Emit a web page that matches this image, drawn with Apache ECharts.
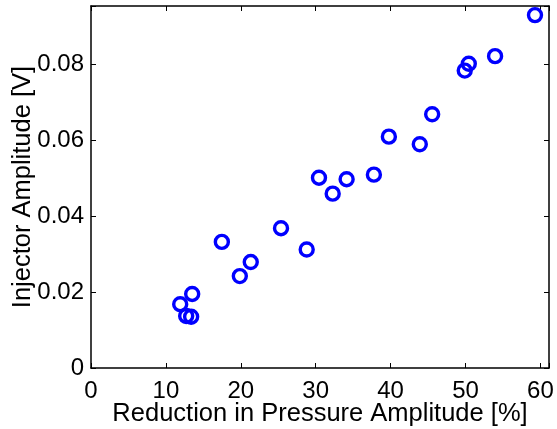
<!DOCTYPE html>
<html>
<head>
<meta charset="utf-8">
<script src="https://cdn.jsdelivr.net/npm/echarts@6/dist/echarts.min.js"></script>
<style>html,body{margin:0;padding:0;background:#fff;}#c{width:557px;height:429px;}</style>
</head>
<body>
<div id="c"></div>
<script>
var reductionPct = [11.91, 12.71, 13.37, 13.51, 17.47, 19.87, 21.33, 25.37, 28.80, 30.44, 32.27, 34.13, 37.77, 39.77, 43.90, 45.55, 49.90, 50.44, 53.95, 59.28];
var injectorAmp  = [0.0168, 0.0137, 0.0135, 0.0195, 0.0332, 0.0242, 0.0279, 0.0368, 0.0312, 0.0501, 0.0459, 0.0497, 0.0509, 0.0609, 0.0589, 0.0668, 0.0783, 0.0801, 0.0821, 0.0929];
var xTicks = [0, 10, 20, 30, 40, 50, 60];
var yTicks = [0, 0.02, 0.04, 0.06, 0.08];
var xTitle = 'Reduction in Pressure Amplitude [%]';
var yTitle = 'Injector Amplitude [V]';

var points = reductionPct.map(function (x, i) { return [x, injectorAmp[i]]; });
var font = 'Liberation Sans, Arial, Helvetica, sans-serif';

function isTick(list, v) {
  for (var i = 0; i < list.length; i++) if (Math.abs(list[i] - v) < 1e-9) return true;
  return false;
}
function xFmt(v) { return isTick(xTicks, v) ? String(v) : ''; }
function yFmt(v) {
  if (!isTick(yTicks, v)) return '';
  return v === 0 ? '0' : v.toFixed(2);
}
var lineStyle = { color: '#000', width: 1.5 };
var tickStyle = { show: true, inside: true, length: 5, lineStyle: { color: '#000', width: 1 } };

var chart = echarts.init(document.getElementById('c'), null, { renderer: 'canvas' });
chart.setOption({
  animation: false,
  backgroundColor: '#fff',
  grid: { left: 91, right: 8, top: 6, bottom: 61, containLabel: false, outerBoundsMode: 'none' },
  xAxis: [{
    type: 'value', min: 0, max: 61.15, interval: 10, position: 'bottom',
    name: xTitle, nameLocation: 'middle', nameGap: 33, nameMoveOverlap: false,
    nameTextStyle: { fontFamily: font, fontSize: 25.5, color: '#000' },
    axisLine: { show: true, onZero: false, lineStyle: lineStyle },
    axisTick: tickStyle,
    axisLabel: { formatter: xFmt, fontFamily: font, fontSize: 24, color: '#000', margin: 11 },
    splitLine: { show: false }
  }, {
    type: 'value', min: 0, max: 61.15, interval: 10, position: 'top',
    axisLine: { show: true, onZero: false, lineStyle: lineStyle },
    axisTick: tickStyle, axisLabel: { show: false }, splitLine: { show: false }
  }],
  yAxis: [{
    type: 'value', min: 0, max: 0.0953, interval: 0.02, position: 'left',
    name: yTitle, nameLocation: 'middle', nameGap: 55, nameMoveOverlap: false,
    nameTextStyle: { fontFamily: font, fontSize: 25.5, color: '#000' },
    axisLine: { show: true, onZero: false, lineStyle: lineStyle },
    axisTick: tickStyle,
    axisLabel: { formatter: yFmt, fontFamily: font, fontSize: 24, color: '#000', margin: 7 },
    splitLine: { show: false }
  }, {
    type: 'value', min: 0, max: 0.0953, interval: 0.02, position: 'right',
    axisLine: { show: true, onZero: false, lineStyle: lineStyle },
    axisTick: tickStyle, axisLabel: { show: false }, splitLine: { show: false }
  }],
  series: [{
    type: 'scatter',
    xAxisIndex: 0, yAxisIndex: 0,
    data: points,
    symbol: 'circle',
    symbolSize: 13,
    itemStyle: { color: 'rgba(0,0,0,0)', borderColor: '#0000ff', borderWidth: 3.4, opacity: 1 }
  }]
});
</script>
</body>
</html>
